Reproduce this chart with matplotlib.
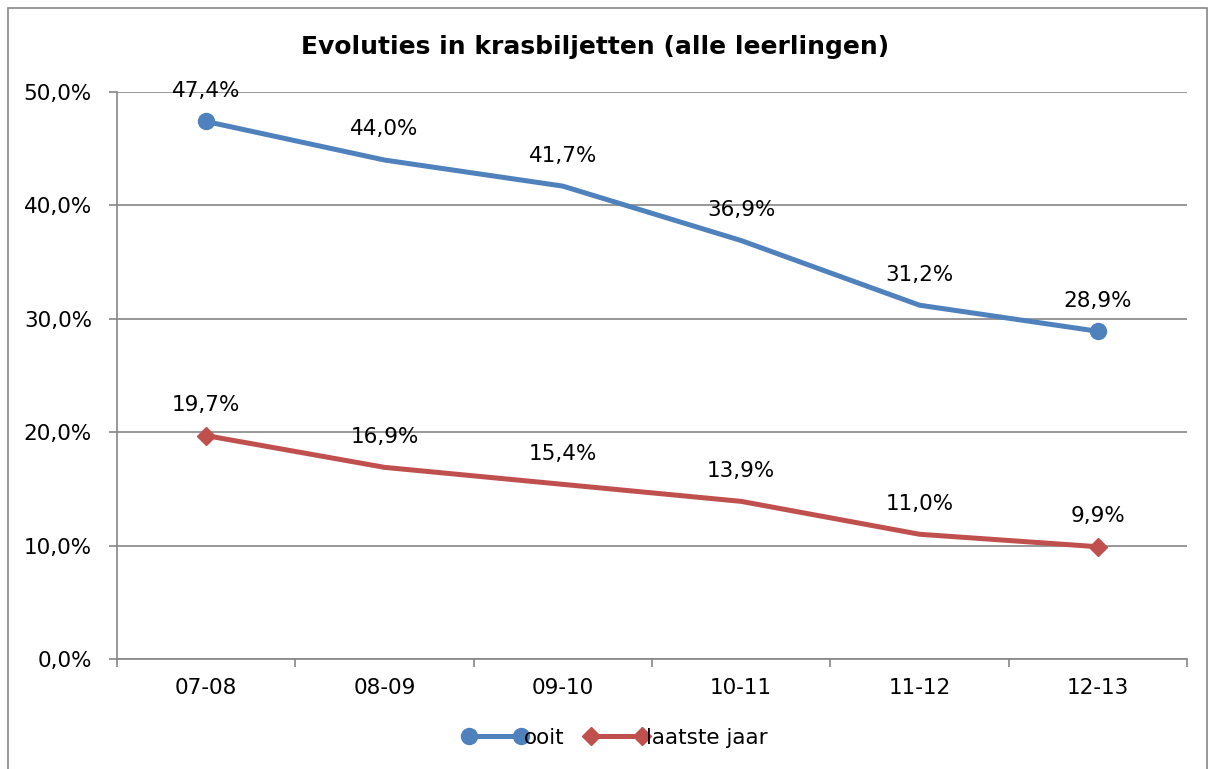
import matplotlib.pyplot as plt
from matplotlib.patches import Rectangle
from matplotlib.ticker import FuncFormatter

# Data
years = ['07-08', '08-09', '09-10', '10-11', '11-12', '12-13']
ooit = [47.4, 44.0, 41.7, 36.9, 31.2, 28.9]
laatste_jaar = [19.7, 16.9, 15.4, 13.9, 11.0, 9.9]

blue = '#4F81BD'
red = '#C0504D'
grey = '#868686'
fs = 15.5

plt.rcParams['font.family'] = ['DejaVu Sans']

fig = plt.figure(figsize=(12.14, 7.69), dpi=100)
ax = fig.add_axes([117 / 1214, 1 - 659 / 769, (1187 - 117) / 1214, (659 - 92) / 769])

# outer chart border
fig.patches.append(Rectangle((8 / 1214, -0.01), (1207 - 8) / 1214, 1 - 8 / 769 + 0.01,
                             transform=fig.transFigure, fill=False,
                             edgecolor=grey, linewidth=1.2))

x = list(range(len(years)))
ax.plot(x, ooit, color=blue, linewidth=3.6, marker='o', markersize=11.5,
        markevery=[0, len(x) - 1], label='ooit', solid_capstyle='round')
ax.plot(x, laatste_jaar, color=red, linewidth=3.6, marker='D', markersize=9,
        markevery=[0, len(x) - 1], label='laatste jaar', solid_capstyle='round')


def pct(v):
    return f'{v:.1f}%'.replace('.', ',')


for xi, v in zip(x, ooit):
    ax.annotate(pct(v), (xi, v), xytext=(0, 22), textcoords='offset points',
                ha='center', va='center', fontsize=fs, color='black')
for xi, v in zip(x, laatste_jaar):
    ax.annotate(pct(v), (xi, v), xytext=(0, 22), textcoords='offset points',
                ha='center', va='center', fontsize=fs, color='black')

ax.set_xlim(-0.5, len(years) - 0.5)
ax.set_ylim(0, 50)
ax.set_yticks(range(0, 51, 10))
ax.yaxis.set_major_formatter(FuncFormatter(lambda v, p: pct(v)))
ax.yaxis.grid(True, color=grey, linewidth=1.2)
ax.set_axisbelow(True)

# category boundaries as major ticks, labels on minor ticks at centres
ax.set_xticks([i - 0.5 for i in range(len(years) + 1)])
ax.set_xticklabels([])
ax.set_xticks(x, minor=True)
ax.set_xticklabels(years, minor=True)
ax.tick_params(axis='x', which='major', length=6, width=1.2, color=grey, direction='out')
ax.tick_params(axis='x', which='minor', length=0, pad=14, labelsize=fs)
ax.tick_params(axis='y', length=6, width=1.2, color=grey, pad=12, labelsize=fs)

for side in ['top', 'right']:
    ax.spines[side].set_visible(False)
for side in ['left', 'bottom']:
    ax.spines[side].set_color(grey)
    ax.spines[side].set_linewidth(1.2)

fig.text(595 / 1214, 1 - 47 / 769, 'Evoluties in krasbiljetten (alle leerlingen)',
         ha='center', va='center', fontsize=18, fontweight='bold')

fig.legend(loc='center', bbox_to_anchor=(615 / 1214, 1 - 738 / 769), ncol=2,
           frameon=False, fontsize=fs, numpoints=2, handlelength=3.0,
           handletextpad=-0.15, columnspacing=0.9)

fig.savefig('out.png', dpi=100)
